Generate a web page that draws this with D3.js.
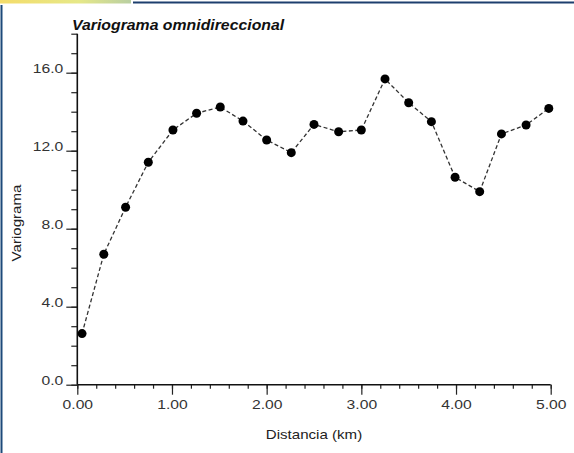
<!DOCTYPE html>
<html>
<head>
<meta charset="utf-8">
<script src="https://cdn.jsdelivr.net/npm/d3@7"></script>
<style>
  html, body { margin: 0; padding: 0; background: #fff; }
  svg { display: block; font-family: "Liberation Sans", Arial, sans-serif; }
</style>
</head>
<body>
<svg id="chart" width="574" height="453"></svg>
<script>
// ---- data ----
const lags      = [0.05, 0.28, 0.51, 0.75, 1.01, 1.26, 1.51, 1.75, 2.00, 2.26, 2.50,
                   2.76, 3.00, 3.25, 3.50, 3.74, 3.99, 4.25, 4.48, 4.74, 4.98];
const gammas    = [2.62, 6.69, 9.10, 11.41, 13.06, 13.92, 14.24, 13.52, 12.55, 11.90, 13.35,
                   12.97, 13.06, 15.68, 14.46, 13.49, 10.64, 9.90, 12.86, 13.32, 14.17];
const xTicks    = [0, 1, 2, 3, 4, 5];
const yTicks    = [0, 4, 8, 12, 16];
const titleText = 'Variograma omnidireccional';
const xLabel    = 'Distancia (km)';
const yLabel    = 'Variograma';

const svg = d3.select('#chart');

// stretch text horizontally, the reference glyphs are wide
function stretch(sel, k) {
  sel.each(function() {
    const w = this.getComputedTextLength();
    d3.select(this).attr('textLength', w * k).attr('lengthAdjust', 'spacingAndGlyphs');
  });
}

// ---- window frame bits ----
const grad = svg.append('defs').append('linearGradient').attr('id', 'strip');
grad.append('stop').attr('offset', '0%').attr('stop-color', '#f4dc6a');
grad.append('stop').attr('offset', '60%').attr('stop-color', '#e6e888');
grad.append('stop').attr('offset', '100%').attr('stop-color', '#b9cfa2');
svg.append('rect').attr('x', 0).attr('y', 0).attr('width', 131).attr('height', 3.5)
  .attr('fill', 'url(#strip)');
svg.append('line').attr('x1', 133).attr('x2', 574).attr('y1', 2.5).attr('y2', 2.5)
  .attr('stroke', '#1d3f6e').attr('stroke-width', 2);
svg.append('line').attr('x1', 1.5).attr('x2', 1.5).attr('y1', 5).attr('y2', 453)
  .attr('stroke', '#1d4a7a').attr('stroke-width', 2);

// ---- scales ----
const x = d3.scaleLinear().domain([0, 5]).range([77.3, 550.7]);
const y = d3.scaleLinear().domain([0, 18]).range([384.7, 33.7]);

// ---- axes ----
const axX = svg.append('g').attr('transform', `translate(0,${y(0)})`);
axX.call(d3.axisBottom(x).tickValues(d3.range(0, 5.001, 0.2)).tickSize(4).tickFormat(''))
  .call(g => {
    g.select('.domain').remove();
    g.selectAll('line').attr('stroke', '#222').attr('stroke-width', 1.2);
  });
const axXMajor = svg.append('g').attr('transform', `translate(0,${y(0)})`);
axXMajor.call(d3.axisBottom(x).tickValues(xTicks).tickSize(10).tickPadding(5)
    .tickFormat(d3.format('.2f')))
  .call(g => {
    g.select('.domain').remove();
    g.selectAll('line').attr('stroke', '#222').attr('stroke-width', 1.2);
    g.selectAll('text').attr('fill', '#333').attr('font-size', 13.5)
      .attr('font-family', '"Liberation Sans", Arial, sans-serif');
  });

const axY = svg.append('g').attr('transform', `translate(${x(0)},0)`);
axY.call(d3.axisLeft(y).tickValues(d3.range(0, 18.001, 1)).tickSize(6).tickFormat(''))
  .call(g => {
    g.select('.domain').remove();
    g.selectAll('line').attr('stroke', '#222').attr('stroke-width', 1.2);
  });
const axYMajor = svg.append('g').attr('transform', `translate(${x(0)},0)`);
axYMajor.call(d3.axisLeft(y).tickValues(yTicks).tickSize(11).tickPadding(3)
    .tickFormat(d3.format('.1f')))
  .call(g => {
    g.select('.domain').remove();
    g.selectAll('line').attr('stroke', '#222').attr('stroke-width', 1.2);
    g.selectAll('text').attr('fill', '#333').attr('font-size', 13.5).attr('dy', 0)
      .attr('font-family', '"Liberation Sans", Arial, sans-serif');
  });

// axis lines
svg.append('line').attr('x1', x(0)).attr('x2', x(5)).attr('y1', y(0)).attr('y2', y(0))
  .attr('stroke', '#111').attr('stroke-width', 1.6);
svg.append('line').attr('x1', x(0)).attr('x2', x(0)).attr('y1', y(0)).attr('y2', y(18))
  .attr('stroke', '#111').attr('stroke-width', 1.6);

// ---- series ----
const pts = lags.map((l, i) => ({ lag: l, g: gammas[i] }));
svg.append('path').datum(pts)
  .attr('fill', 'none').attr('stroke', '#333').attr('stroke-width', 1.3)
  .attr('stroke-dasharray', '4,2.5')
  .attr('d', d3.line().x(d => x(d.lag)).y(d => y(d.g)));
svg.append('g').selectAll('circle').data(pts).join('circle')
  .attr('cx', d => x(d.lag)).attr('cy', d => y(d.g)).attr('r', 4.5)
  .attr('fill', '#000');

// ---- labels ----
svg.append('text').attr('class', 'title').attr('x', 72).attr('y', 30)
  .attr('font-size', 14).attr('font-weight', 'bold').attr('font-style', 'italic')
  .attr('fill', '#111').text(titleText);

svg.append('text').attr('x', (x(0) + x(5)) / 2).attr('y', 438.5)
  .attr('text-anchor', 'middle').attr('font-size', 13).attr('fill', '#222').text(xLabel);

svg.append('text').attr('transform', 'translate(21,223) rotate(-90)')
  .attr('text-anchor', 'middle').attr('font-size', 13).attr('fill', '#222').text(yLabel);

stretch(svg.selectAll('text:not(.title)'), 1.16);
stretch(svg.selectAll('text.title'), 1.13);
</script>
</body>
</html>
